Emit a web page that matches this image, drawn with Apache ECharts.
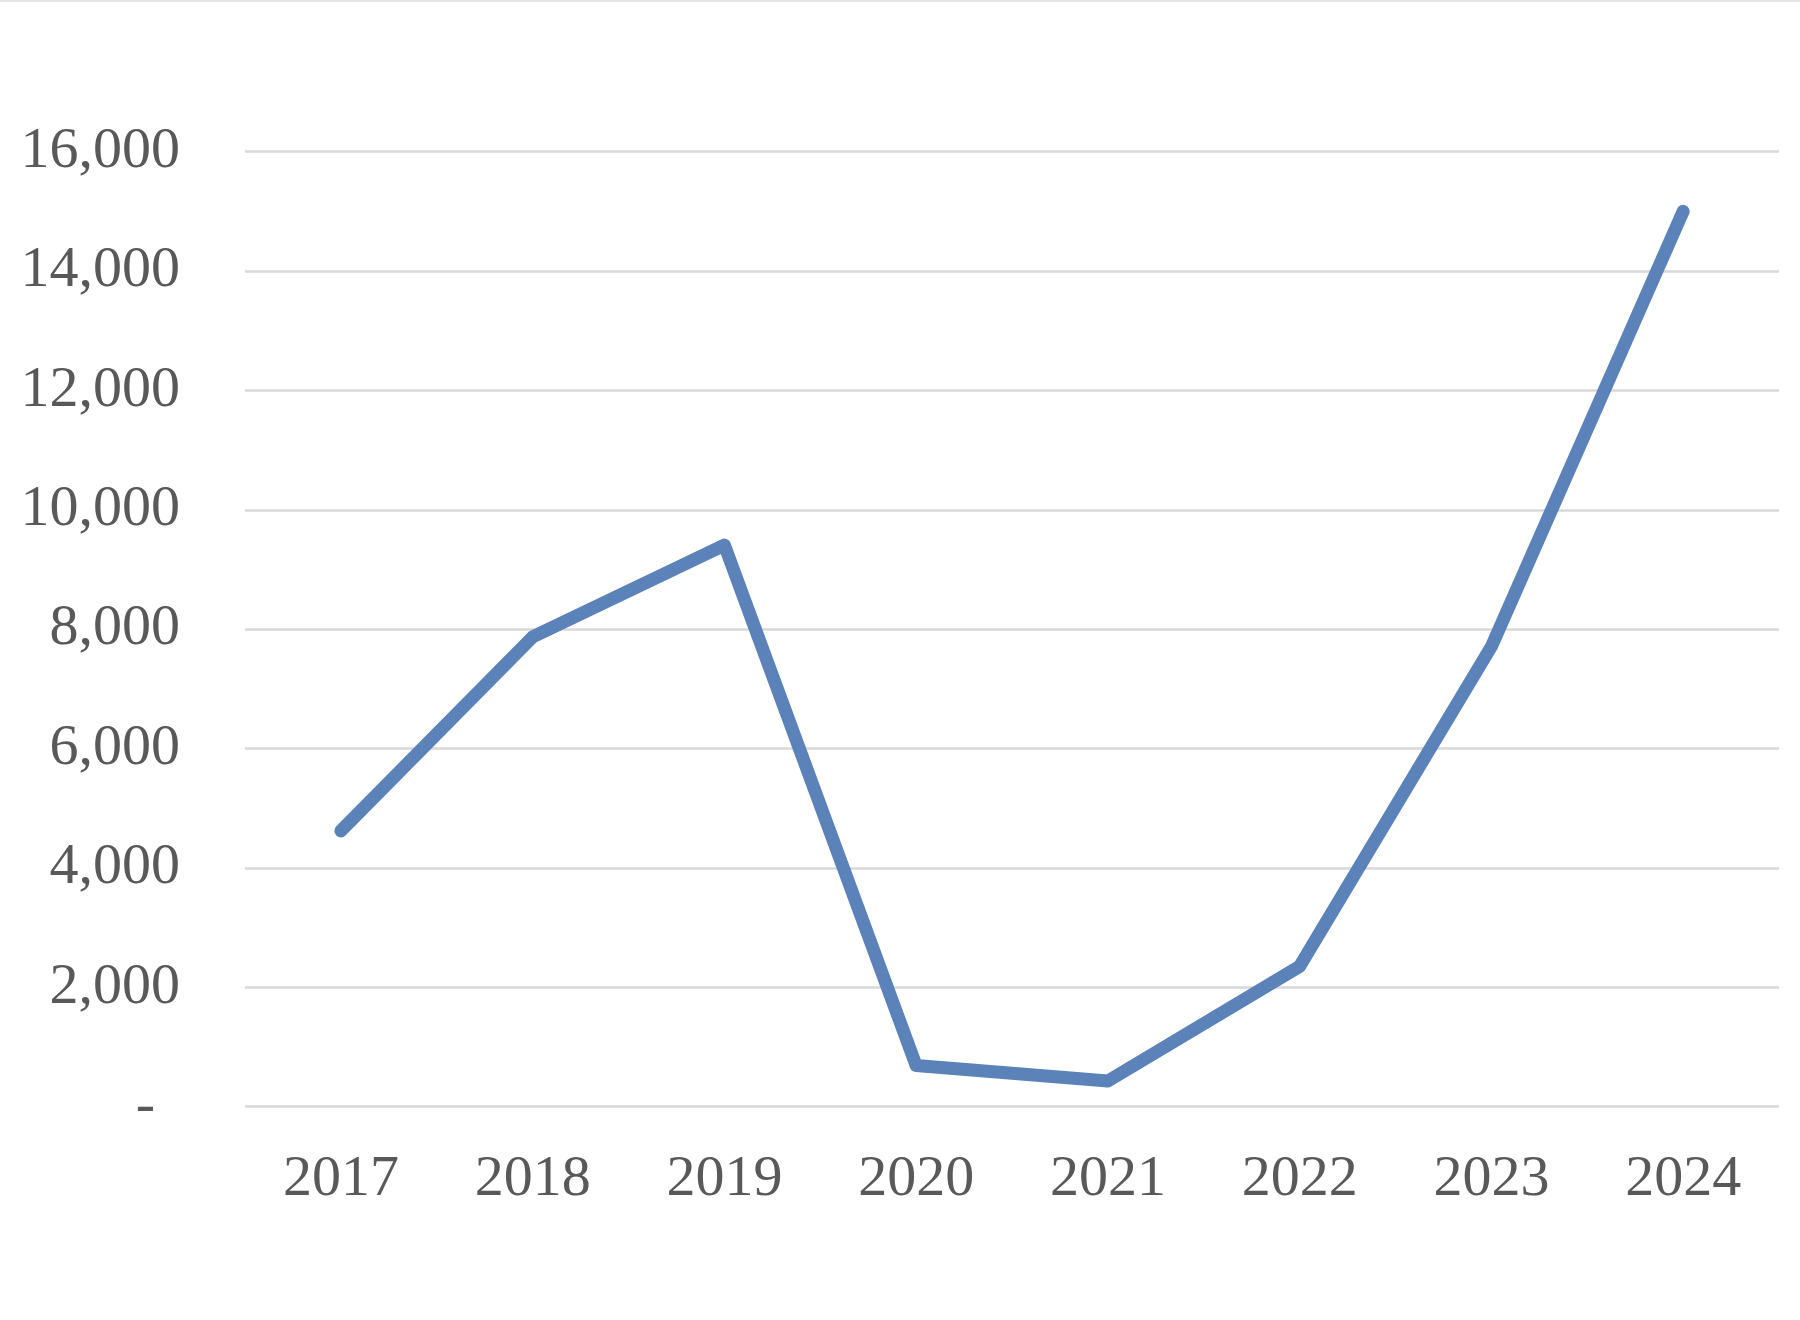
<!DOCTYPE html>
<html>
<head>
<meta charset="utf-8">
<script src="https://cdn.jsdelivr.net/npm/echarts@6/dist/echarts.min.js"></script>
<style>
html,body{margin:0;padding:0;background:#fff;}
#chart{width:1800px;height:1320px;}
</style>
</head>
<body>
<div id="chart"></div>
<script>
const categories = ['2017','2018','2019','2020','2021','2022','2023','2024'];
const values = [4620, 7870, 9410, 690, 430, 2350, 7710, 15000];
const yTicks = [0, 2000, 4000, 6000, 8000, 10000, 12000, 14000, 16000];

const chart = echarts.init(document.getElementById('chart'), null, {renderer:'canvas'});
chart.setOption({
  backgroundColor: '#ffffff',
  animation: false,
  graphic: [{
    type: 'rect',
    left: 0, top: 0,
    shape: {width: 1800, height: 2},
    style: {fill: '#e6e6e6'},
    silent: true
  }],
  grid: {left: 245, right: 21, top: 151.7, bottom: 213.3, containLabel: false},
  xAxis: {
    type: 'category',
    data: categories,
    boundaryGap: true,
    axisLine: {show: false},
    axisTick: {show: false},
    axisLabel: {
      margin: 44,
      color: '#595959',
      fontFamily: 'Liberation Serif',
      fontSize: 58
    }
  },
  yAxis: {
    type: 'value',
    min: yTicks[0],
    max: yTicks[yTicks.length-1],
    interval: 2000,
    axisLine: {show: false},
    axisTick: {show: false},
    splitLine: {lineStyle: {color: '#d9d9d9', width: 2.5}},
    axisLabel: {
      margin: 65,
      color: '#595959',
      fontFamily: 'Liberation Serif',
      fontSize: 58,
      formatter: function(v){
        if (v === 0) return '{z|-}';
        return v.toLocaleString('en-US');
      },
      rich: {
        z: {color:'#595959', fontFamily:'Liberation Serif', fontSize:58, padding:[0,25,0,0]}
      }
    }
  },
  series: [{
    type: 'line',
    data: values,
    symbol: 'none',
    lineStyle: {color: '#5B83BA', width: 13, cap: 'round', join: 'round'},
    itemStyle: {color: '#5B83BA'}
  }]
});
</script>
</body>
</html>
